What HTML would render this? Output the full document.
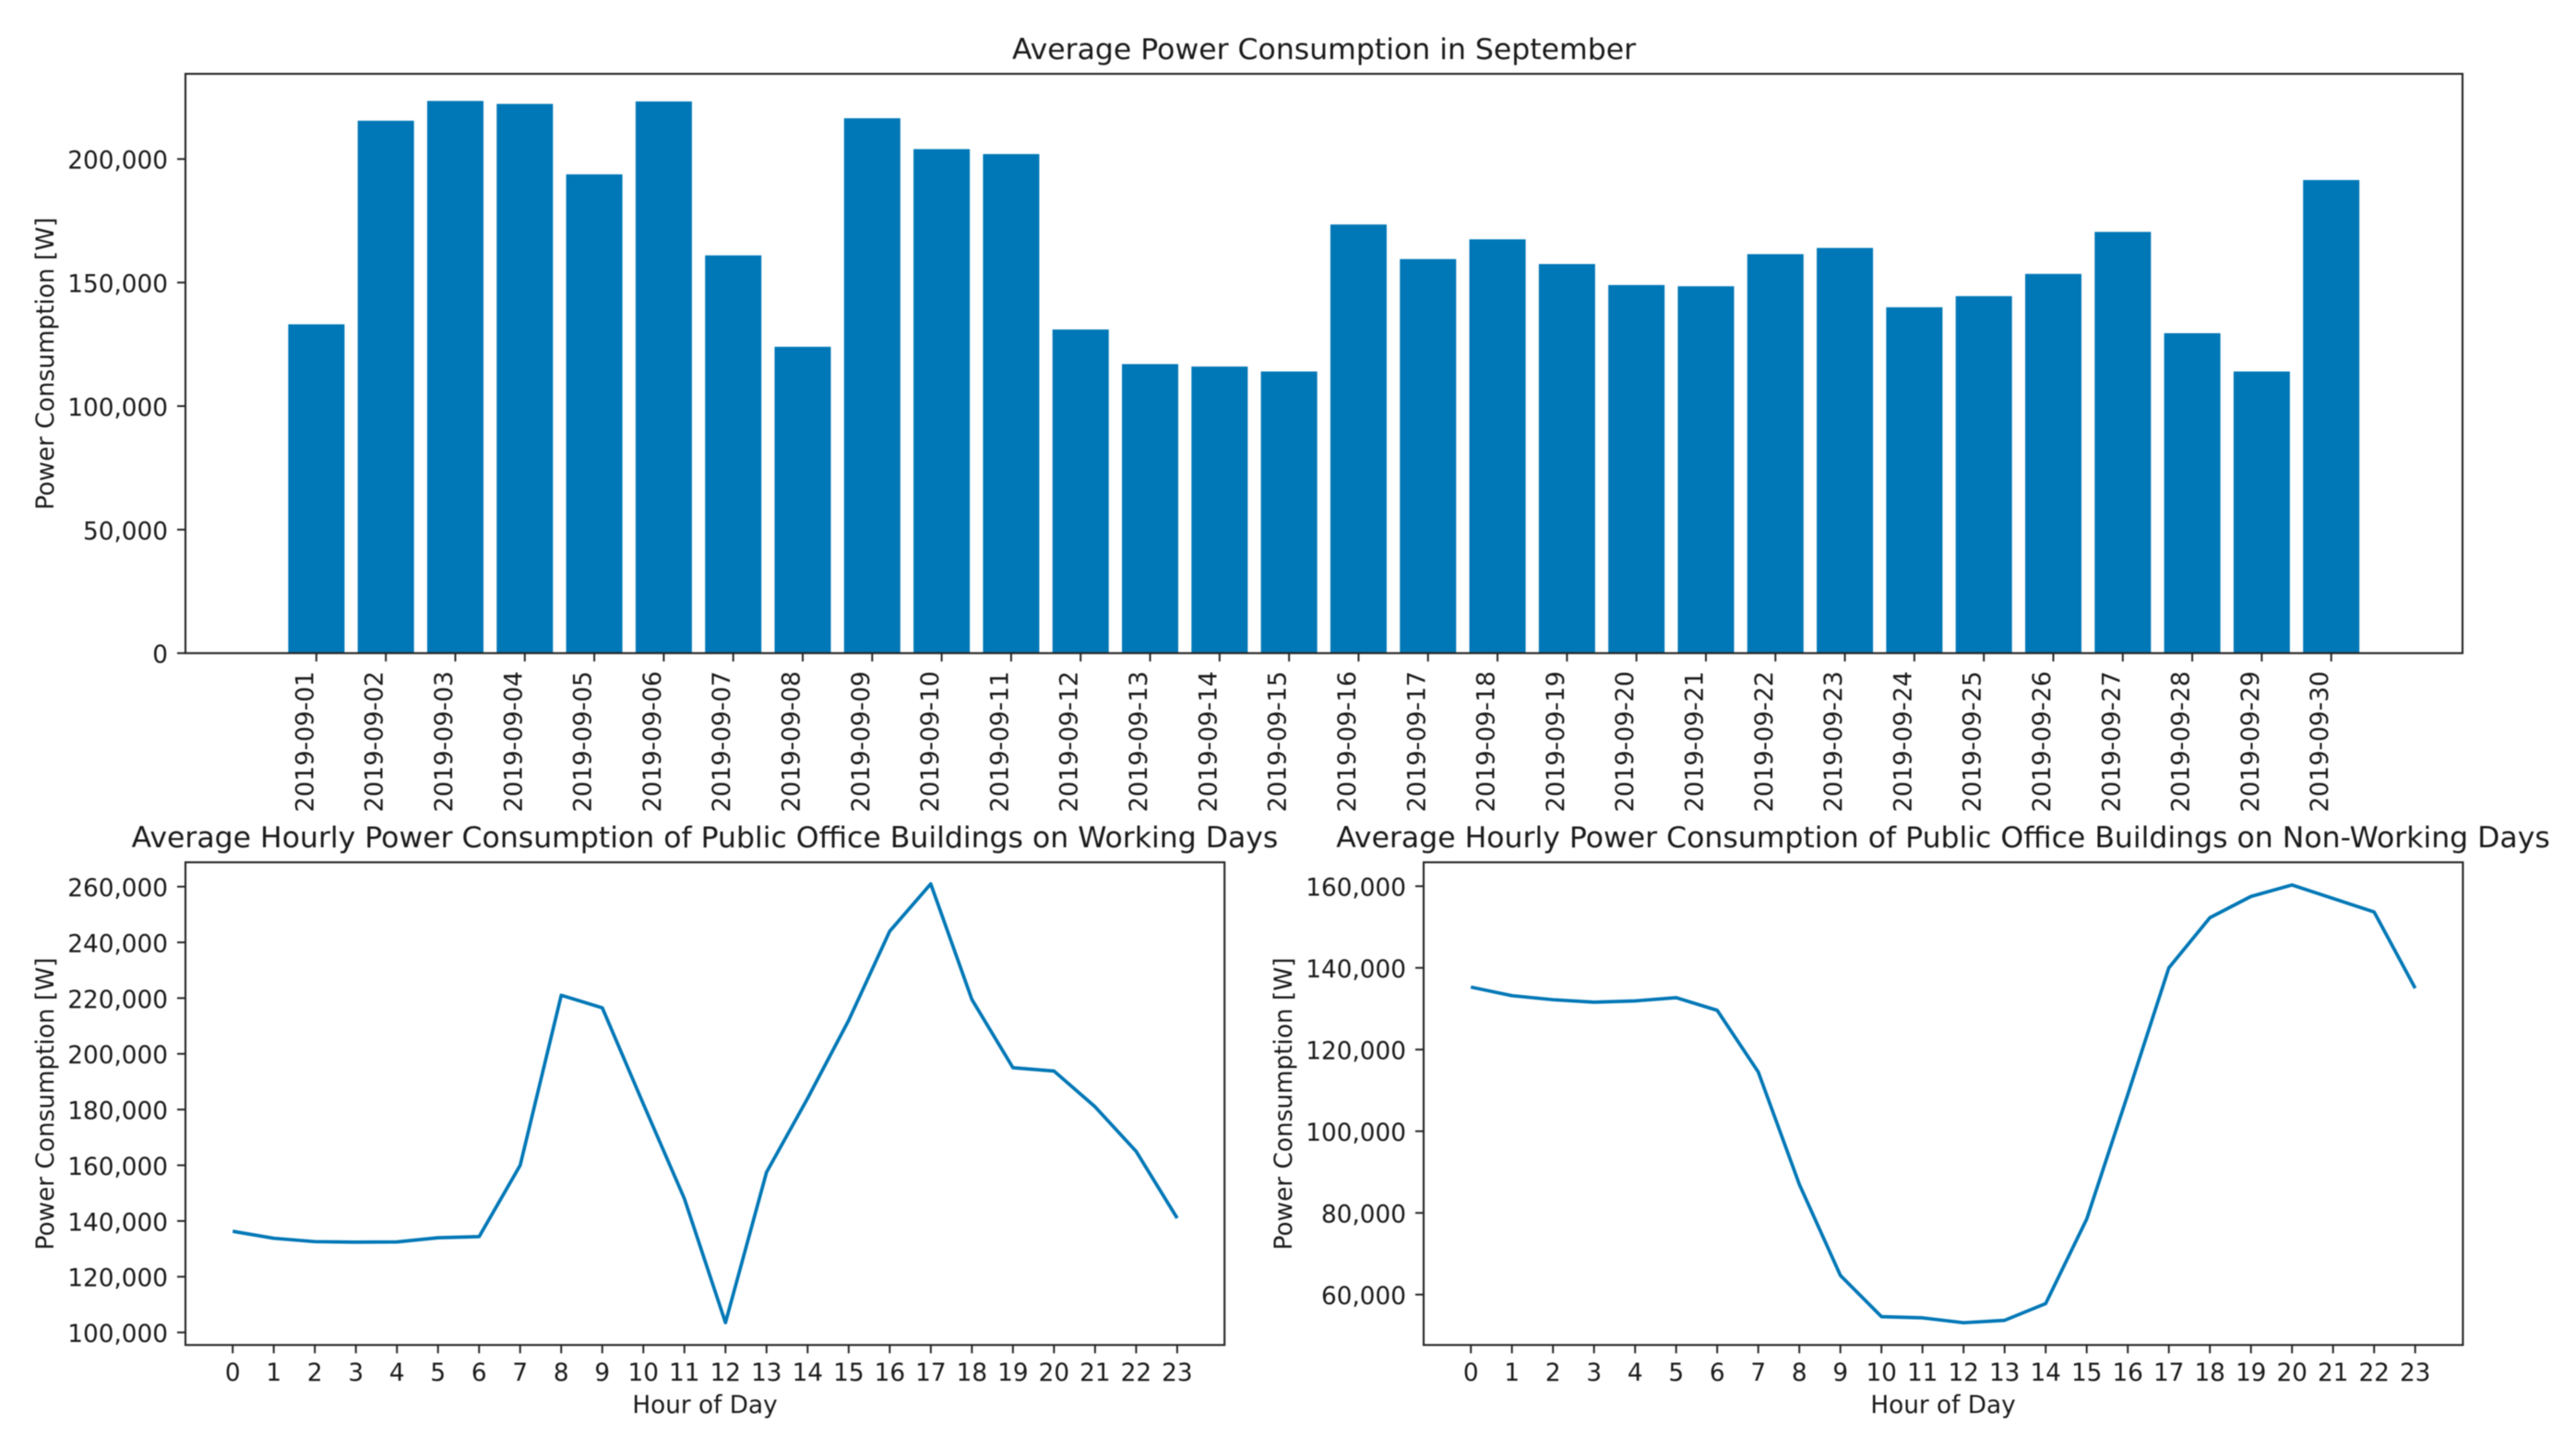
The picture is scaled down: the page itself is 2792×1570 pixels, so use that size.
<!DOCTYPE html>
<html lang="en">
<head>
<meta charset="utf-8">
<title>Average Power Consumption in September</title>
<style>
html,body{margin:0;padding:0;background:#fff;}
svg{display:block;filter:blur(0.6px);}
text{font-family:"DejaVu Sans","Liberation Sans",sans-serif;fill:#1a1a1a;}
.tick{font-size:26.3px;}
.title{font-size:31.5px;text-anchor:middle;}
.axis-label{font-size:26.3px;text-anchor:middle;}
</style>
</head>
<body>
<svg id="chart" xmlns="http://www.w3.org/2000/svg" width="2792" height="1570" viewBox="0 0 2792 1570">
  <rect x="0" y="0" width="2792" height="1570" fill="#ffffff"/>
  <g id="layer-top"></g>
  <g id="layer-left"></g>
  <g id="layer-right"></g>
  <text class="title" x="1435" y="64">Average Power Consumption in September</text>
  <text class="title" x="764" y="918">Average Hourly Power Consumption of Public Office Buildings on Working Days</text>
  <text class="title" x="2106" y="918">Average Hourly Power Consumption of Public Office Buildings on Non-Working Days</text>
  <text class="axis-label" transform="translate(58,394) rotate(-90)">Power Consumption [W]</text>
  <text class="axis-label" transform="translate(58,1196) rotate(-90)">Power Consumption [W]</text>
  <text class="axis-label" transform="translate(1400,1196) rotate(-90)">Power Consumption [W]</text>
  <text class="axis-label" x="764" y="1531">Hour of Day</text>
  <text class="axis-label" x="2106" y="1531">Hour of Day</text>
</svg>
<script>
const dates = ["2019-09-01","2019-09-02","2019-09-03","2019-09-04","2019-09-05","2019-09-06","2019-09-07","2019-09-08","2019-09-09","2019-09-10","2019-09-11","2019-09-12","2019-09-13","2019-09-14","2019-09-15","2019-09-16","2019-09-17","2019-09-18","2019-09-19","2019-09-20","2019-09-21","2019-09-22","2019-09-23","2019-09-24","2019-09-25","2019-09-26","2019-09-27","2019-09-28","2019-09-29","2019-09-30"];
const dailyPower = [133100,215500,223500,222300,193800,223300,161000,124000,216500,204000,202000,131000,117000,116000,114000,173500,159500,167500,157500,149000,148500,161500,164000,140000,144500,153500,170500,129500,114000,191500];
const dailyTicks = [0,50000,100000,150000,200000];
const hours = [0,1,2,3,4,5,6,7,8,9,10,11,12,13,14,15,16,17,18,19,20,21,22,23];
const workingPower = [136300,133800,132600,132400,132500,134000,134400,160000,221000,216500,182000,148000,103500,157500,184000,212000,244000,261000,219500,195000,193800,181000,165000,141000];
const workingTicks = [100000,120000,140000,160000,180000,200000,220000,240000,260000];
const nonWorkingPower = [135300,133200,132200,131600,131900,132700,129600,114500,87000,64700,54600,54300,53100,53700,57800,78500,109000,140000,152300,157500,160300,157000,153700,135000];
const nonWorkingTicks = [60000,80000,100000,120000,140000,160000];

const NS = "http://www.w3.org/2000/svg";
const BLUE = "#0077b6";
const INK = "#262626";

function node(parent, tag, props, content) {
  const el = document.createElementNS(NS, tag);
  for (const k in props) el.setAttribute(k, props[k]);
  if (content !== undefined) el.textContent = content;
  parent.appendChild(el);
  return el;
}
function linear(d0, r0, d1, r1) {
  return v => r0 + (v - d0) * (r1 - r0) / (d1 - d0);
}
function fmt(v) {
  return v.toLocaleString("en-US");
}
function drawYAxis(g, ticks, y, left) {
  ticks.forEach(t => {
    const m = node(g, "line", {x1: left - 9, x2: left, y1: y(t), y2: y(t), stroke: INK, "stroke-width": 2});
    
    
    const l = node(g, "text", {class: "tick", x: left - 19, y: y(t) + 10.4, "text-anchor": "end"}, fmt(t));
    
    
  });
}
function drawFrame(g, left, top, right, bottom) {
  const f = node(g, "rect", {x: left, y: top, width: right - left, height: bottom - top, fill: "none", stroke: INK, "stroke-width": 2.1});
  
  
}
function drawLineChart(g, cats, values, x, y, ticks, box) {
  drawYAxis(g, ticks, y, box.left);
  cats.forEach(c => {
    const m = node(g, "line", {x1: x(c), x2: x(c), y1: box.bottom, y2: box.bottom + 9, stroke: INK, "stroke-width": 2});
    
    
    const l = node(g, "text", {class: "tick", x: x(c), y: 1496, "text-anchor": "middle"}, String(c));
    
    
  });
  const pts = cats.map((c, i) => x(c).toFixed(1) + "," + y(values[i]).toFixed(1)).join(" ");
  const p = node(g, "polyline", {points: pts, fill: "none", stroke: BLUE, "stroke-width": 3.7, "stroke-linejoin": "round"});
  
  
  drawFrame(g, box.left, box.top, box.right, box.bottom);
}

/* top bar chart */
(function () {
  const g = document.getElementById("layer-top");
  const box = {left: 201, top: 80, right: 2669, bottom: 707.7};
  const x = linear(0, 342.9, 29, 2526.7);
  const y = linear(0, 707.7, 200000, 172.3);
  const w = (x(1) - x(0)) * 0.81;
  drawYAxis(g, dailyTicks, y, box.left);
  dates.forEach((d, i) => {
    const b = node(g, "rect", {x: x(i) - w / 2, y: y(dailyPower[i]), width: w, height: y(0) - y(dailyPower[i]), fill: BLUE});
    
    
    const m = node(g, "line", {x1: x(i), x2: x(i), y1: box.bottom, y2: box.bottom + 9, stroke: INK, "stroke-width": 2});
    
    
    const l = node(g, "text", {class: "tick", "text-anchor": "start", transform: "translate(" + (x(i) - 3.5) + ",880) rotate(-90)"}, d);
    
    
  });
  drawFrame(g, box.left, box.top, box.right, box.bottom);
})();

/* working days */
drawLineChart(
  document.getElementById("layer-left"), hours, workingPower,
  linear(0, 252.2, 23, 1275.9),
  linear(100000, 1443.7, 260000, 960.7),
  workingTicks,
  {left: 201, top: 934.3, right: 1327.2, bottom: 1457.3}
);

/* non-working days */
drawLineChart(
  document.getElementById("layer-right"), hours, nonWorkingPower,
  linear(0, 1594.2, 23, 2617.7),
  linear(60000, 1402.7, 160000, 960.2),
  nonWorkingTicks,
  {left: 1543, top: 934.3, right: 2669.4, bottom: 1457.3}
);
</script>
</body>
</html>
